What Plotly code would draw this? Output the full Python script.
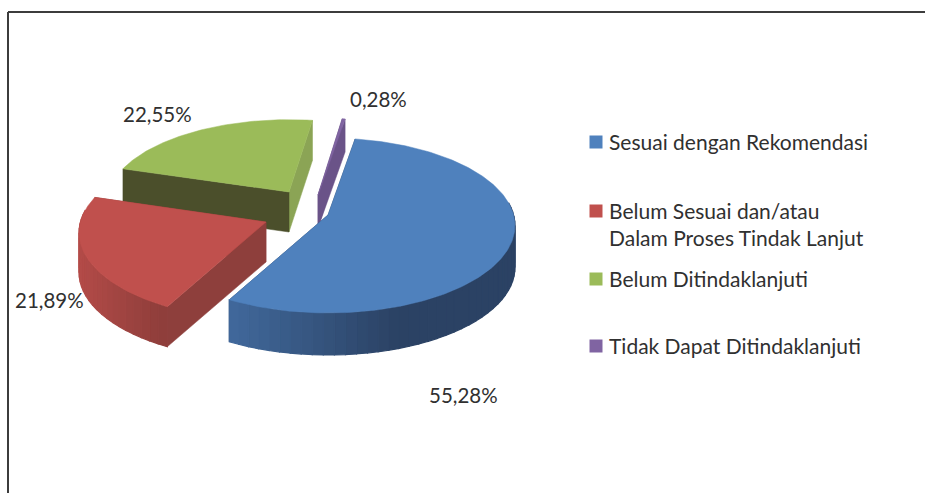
import math
import plotly.graph_objects as go

categories = ["Sesuai dengan Rekomendasi", "Belum Sesuai dan/atau<br>Dalam Proses Tindak Lanjut",
              "Belum Ditindaklanjuti", "Tidak Dapat Ditindaklanjuti"]
values = [55.28, 21.89, 22.55, 0.28]
top_colors = ["#4f81bd", "#c0504d", "#9bbb59", "#8064a2"]

START = 9.4
K = 0.12
RX, RY = 185.6, 86.2
# per-slice explosion: apex position and scale on the page
apex = [(328, 215), (266, 222), (289, 192), (318, 195)]
scale_x = [1.0, 1.0, 0.97, 1.0]
scale_y = [1.0, 1.0, 0.94, 1.0]
depths = [42, 40, 40, 33]
arc_left = ["#41699c", "#b34b48", "#8aa34f", "#604a7b"]
arc_right = ["#2b4264", "#8f3e3b", "#6f8540", "#604a7b"]
face_start = ["#2b4264", "#8e3f3c", "#4b4f2b", "#5c4776"]   # face below the slice's first edge
face_end = ["#2b4264", "#8e3f3c", "#8ba455", "#6a5388"]     # face below the slice's last edge

label_pos = [(463, 395), (49, 300), (157, 114), (378, 99)]
legend_y = [141, 210, 278, 345]


def proj(i, deg):
    a = math.radians(deg)
    u, v = math.sin(a), -math.cos(a)
    d = 1 - K * v
    return apex[i][0] + scale_x[i] * RX * u / d, apex[i][1] + scale_y[i] * RY * v / d


def mix(c1, c2, t):
    a = [int(c1[j:j + 2], 16) for j in (1, 3, 5)]
    b = [int(c2[j:j + 2], 16) for j in (1, 3, 5)]
    return "#%02x%02x%02x" % tuple(round(p + (q - p) * t) for p, q in zip(a, b))


fig = go.Figure()


def poly(xs, ys, color, w=0.5):
    fig.add_trace(go.Scatter(x=xs, y=ys, mode="lines", fill="toself", fillcolor=color,
                             line=dict(color=color, width=w), hoverinfo="skip", showlegend=False))


angles = []
cur = START
for v in values:
    angles.append((cur, cur + v * 3.6))
    cur += v * 3.6

for i in [2, 3, 1, 0]:
    a0, a1 = angles[i]
    ax, ay = apex[i]
    dp = depths[i]
    x0, y0 = proj(i, a0)
    x1, y1 = proj(i, a1)
    # radial faces: paint the one nearer the viewer last
    faces = [(x0, y0, face_start[i]), (x1, y1, face_end[i])]
    faces.sort(key=lambda f: f[1])
    for fx, fy, col in faces:
        poly([ax, fx, fx, ax, ax], [ay, fy, fy + dp, ay + dp, ay], col)
    # outer wall, front-facing part only, in strips
    n = max(2, int((a1 - a0) / 3))
    for j in range(n):
        b0 = a0 + (a1 - a0) * j / n
        b1 = a0 + (a1 - a0) * (j + 1) / n
        xa, ya = proj(i, b0)
        xb, yb = proj(i, b1)
        if math.cos(math.radians((b0 + b1) / 2)) > 0.12:
            continue
        t = (xa - 232) / 170 if i == 0 else (xa - 80) / 85
        col = mix(arc_left[i], arc_right[i], max(0, min(1, t)))
        poly([xa, xb, xb, xa, xa], [ya, yb, yb + dp, ya + dp, ya], col, 1.2)
    # top face
    m = max(2, int((a1 - a0)))
    pts = [proj(i, a0 + (a1 - a0) * j / m) for j in range(m + 1)]
    poly([ax] + [p[0] for p in pts] + [ax], [ay] + [p[1] for p in pts] + [ay], top_colors[i])

# legend
fig.add_trace(go.Scatter(x=[596] * 4, y=[142, 211, 279, 346], mode="markers",
                         marker=dict(symbol="square", size=13, color=top_colors, line=dict(width=0)),
                         hoverinfo="skip", showlegend=False))
annotations = []
for c, y in zip(categories, legend_y):
    oy = 13.5 if "<br>" in c else 0
    annotations.append(dict(x=606.5, y=y + oy, text=c, xref="x", yref="y", xanchor="left", yanchor="middle",
                            align="left", showarrow=False, font=dict(family="Lato", size=21, color="#303030")))
for v, (x, y) in zip(values, label_pos):
    annotations.append(dict(x=x, y=y, text=f"{v:.2f}%".replace(".", ","), xref="x", yref="y",
                            showarrow=False, font=dict(family="Lato", size=20.5, color="#303030")))

frame = dict(color="#3c3c3c", width=2)
shapes = [
    dict(type="line", xref="x", yref="y", x0=8, y0=12, x1=8, y1=493, line=frame),
    dict(type="line", xref="x", yref="y", x0=8, y0=12, x1=925, y1=12, line=frame),
]

fig.update_layout(width=925, height=493, margin=dict(l=0, r=0, t=0, b=0),
                  paper_bgcolor="white", plot_bgcolor="white", showlegend=False,
                  xaxis=dict(range=[0, 925], visible=False, fixedrange=True),
                  yaxis=dict(range=[493, 0], visible=False, fixedrange=True),
                  annotations=annotations, shapes=shapes)
fig.write_html("out.html", config={"displayModeBar": False},
               post_script="document.body.style.margin='0';document.documentElement.style.overflow='hidden';")
